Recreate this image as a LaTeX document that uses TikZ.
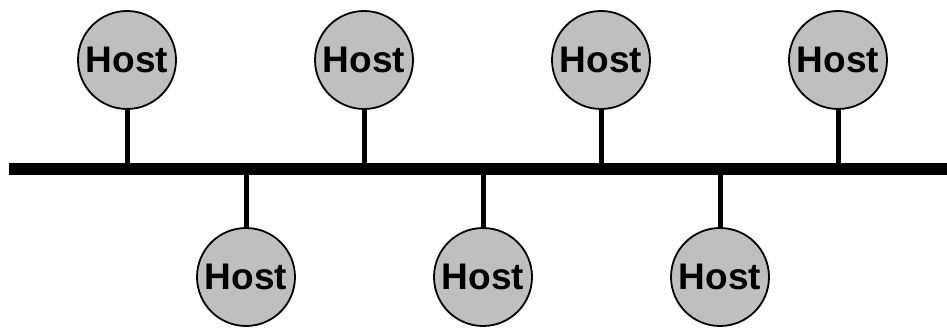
\documentclass[tikz,border=0pt]{standalone}
\usepackage{fontspec}
\setmainfont{Liberation Sans}
\begin{document}
\begin{tikzpicture}[x=1pt,y=1pt,
  host/.style={circle,draw=black,line width=1.8pt,fill=black!25,minimum size=98pt,inner sep=0pt,
    font=\fontsize{37}{40}\selectfont\bfseries},
  stem/.style={line width=5pt},
  bus/.style={line width=12pt}]
\useasboundingbox (0,0) rectangle (947,328);
\coordinate (bl) at (9,159);
\coordinate (br) at (947,159);
\node[host] (h1) at (127,268) {Host};
\node[host] (h2) at (364,268) {Host};
\node[host] (h3) at (601,268) {Host};
\node[host] (h4) at (838,268) {Host};
\node[host] (h5) at (246,51) {Host};
\node[host] (h6) at (483,51) {Host};
\node[host] (h7) at (720,51) {Host};
\draw[bus] (bl) -- (br);
\foreach \h in {h1,h2,h3,h4,h5,h6,h7}
  \draw[stem] (\h) -- (\h |- bl);
\end{tikzpicture}
\end{document}
